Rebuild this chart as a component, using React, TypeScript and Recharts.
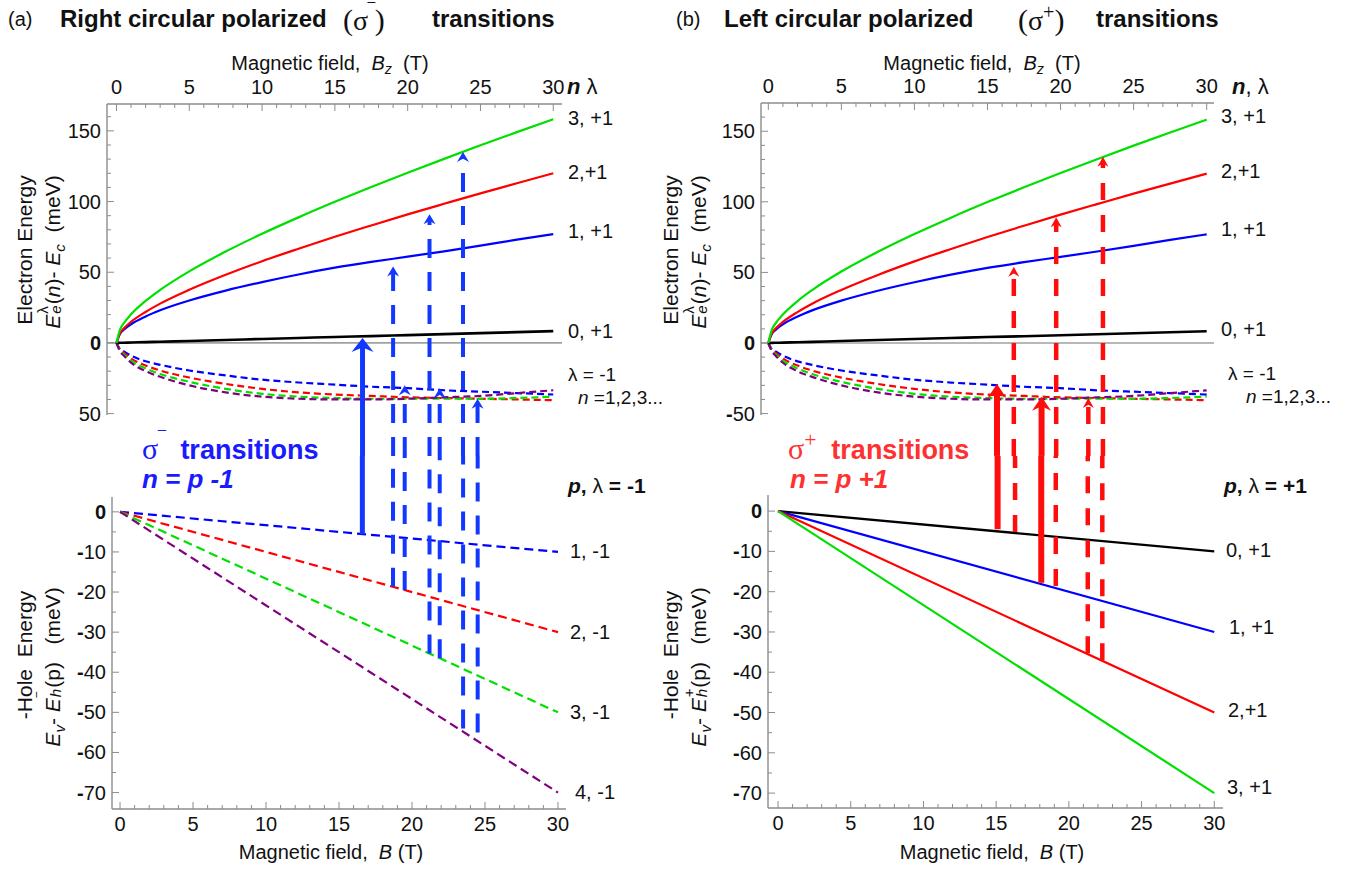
import React from 'react';
import { LineChart, Line, XAxis, YAxis, ReferenceLine } from 'recharts';

const W = 1371;
const H = 871;
const SANS = '"Liberation Sans", Arial, Helvetica, sans-serif';
const SERIF = '"Liberation Serif", "DejaVu Serif", serif';
const FRAME = '#8c8c8c';
const GREEN = '#00e000';
const RED = '#ff0000';
const BLUE = '#0000ff';
const PURPLE = '#800080';
const BLACK = '#000000';
const ARROW_BLUE = '#1238ff';
const ARROW_RED = '#ff0d0d';

// magnetic field samples (T) for the conduction band levels
const fieldE = [0, 0.25, 0.5, 1, 2, 3, 5, 7.5, 10, 12.5, 15, 17.5, 20, 22.5, 25, 27.5, 30];
// lambda = +1 electron levels, meV
const elecP0 = [0, 0.07, 0.14, 0.28, 0.55, 0.83, 1.4, 2.1, 2.8, 3.5, 4.2, 4.8, 5.5, 6.2, 6.9, 7.6, 8.3];
const elecP1 = [0, 6.5, 9.3, 13.2, 18.7, 23.1, 30, 37, 43, 48.4, 53.2, 57.3, 61, 64.8, 68.8, 73, 77];
const elecP2 = [0, 7, 10.2, 14.9, 21.9, 27.8, 37.6, 48.2, 57.8, 66.6, 75.1, 83.1, 90.9, 98.4, 105.8, 112.9, 120];
const elecP3 = [0, 9.6, 13.9, 20.2, 29.7, 37.5, 50.6, 64.6, 77.2, 88.8, 99.8, 110.3, 120.4, 130.2, 139.8, 149.1, 158.2];
// lambda = -1 electron levels, n = 1..4
const elecM1 = [0, -4.5, -6, -9, -13, -15.5, -19.5, -23, -26, -28, -29.5, -31, -32, -33.5, -34.5, -35.5, -36.5];
const elecM2 = [0, -5, -7, -11, -16, -19.5, -24.5, -29, -32.5, -35, -36.5, -37.5, -38.5, -39, -39.5, -40, -40.5];
const elecM3 = [0, -5.5, -8, -12.5, -18, -22, -27.5, -32.5, -36, -38, -39, -39.5, -39.5, -39.5, -39.5, -39, -38];
const elecM4 = [0, -6, -9, -14, -20, -24, -30, -35, -38, -39.5, -40, -40, -39.5, -38.5, -37.5, -35.5, -33.5];

// hole levels (straight lines), meV
const fieldH = [0, 30];
const holeM1 = [0, -10];
const holeM2 = [0, -30];
const holeM3 = [0, -50];
const holeM4 = [0, -70];
const holeP0 = [0, -10];
const holeP1 = [0, -30];
const holeP2 = [0, -50];
const holeP3 = [0, -70];

// sigma- transitions (field read on hole axis / electron axis, start and end energies)
const smBHole = [16.6, 18.7, 19.5, 21.2, 21.9, 23.5, 24.5];
const smBElec = [16.9, 19.0, 19.8, 21.5, 22.2, 23.8, 24.8];
const smFrom = [-5.6, -18.7, -19.5, -35.3, -36.5, -54, -55];
const smTo = [3.5, 54, -30, 91, -32, 135, -39.5];
const smSolid = [true, false, false, false, false, false, false];

// sigma+ transitions
const spBHole = [15.1, 16.3, 18.1, 19.1, 21.3, 22.3];
const spBElec = [15.65, 16.8, 18.7, 19.7, 21.9, 22.9];
const spFrom = [-4.5, -5.2, -17.8, -18.6, -35.3, -37];
const spTo = [-29, 54, -38, 89, -39, 132];
const spSolid = [true, false, true, false, false, false];

// ticks
const xMajor = [0, 5, 10, 15, 20, 25, 30];
const xAll = Array.from({ length: 31 }, (_, i) => i);
const eMajor = [-50, 0, 50, 100, 150];
const eAll = [-50, -40, -30, -20, -10, 0, 10, 20, 30, 40, 50, 60, 70, 80, 90, 100, 110, 120, 130, 140, 150, 160];
const hMajor = [-70, -60, -50, -40, -30, -20, -10, 0];
const hAll = [-70, -65, -60, -55, -50, -45, -40, -35, -30, -25, -20, -15, -10, -5, 0];

type Frame = { left: number; right: number; top: number; bottom: number };
const frameAT: Frame = { left: 107, right: 562, top: 104, bottom: 415 };
const frameAB: Frame = { left: 112, right: 566, top: 497, bottom: 809 };
const frameBT: Frame = { left: 761, right: 1214, top: 103, bottom: 415 };
const frameBB: Frame = { left: 768, right: 1223, top: 495, bottom: 808 };

const toPts = (xs: number[], ys: number[]) => xs.map((x, i) => ({ x, y: ys[i] }));

type Side = 'top' | 'bottom' | 'left' | 'right';

const minusLabel = (v: number, hideMinus = false) => {
  if (v === 0) return <tspan fontWeight="bold">0</tspan>;
  if (v < 0) {
    if (hideMinus) return <tspan>{Math.abs(v)}</tspan>;
    return (
      <>
        <tspan fontWeight="bold">-</tspan>
        <tspan>{Math.abs(v)}</tspan>
      </>
    );
  }
  return <tspan>{v}</tspan>;
};

const frameTick = (side: Side, majors: number[], fmt?: (v: number) => React.ReactNode) => (props: any) => {
  const { x, y, payload } = props;
  const v = payload.value as number;
  const major = majors.some((m) => Math.abs(m - v) < 1e-6);
  const len = major ? 7 : 4;
  let x2 = x;
  let y2 = y;
  if (side === 'top') y2 = y + len;
  if (side === 'bottom') y2 = y - len;
  if (side === 'left') x2 = x + len;
  if (side === 'right') x2 = x - len;
  let label: React.ReactNode = null;
  const common = { fontFamily: SANS, fontSize: 20, fill: '#111' };
  if (fmt && major) {
    if (side === 'top') label = <text x={x} y={y - 10} textAnchor="middle" {...common}>{fmt(v)}</text>;
    if (side === 'bottom') label = <text x={x} y={y + 22} textAnchor="middle" {...common}>{fmt(v)}</text>;
    if (side === 'left') label = <text x={x - 6} y={y + 7} textAnchor="end" {...common}>{fmt(v)}</text>;
  }
  return (
    <g>
      <line x1={x} y1={y} x2={x2} y2={y2} stroke={FRAME} strokeWidth={1} />
      {label}
    </g>
  );
};

const arrowShape = (headW: number, headL: number, withHead: boolean, color: string, width: number, dash?: string) => (p: any) => {
  const x = p.x1;
  const yTop = Math.min(p.y1, p.y2);
  const yBot = Math.max(p.y1, p.y2);
  if (!withHead) {
    return <line x1={x} x2={x} y1={yBot} y2={yTop} stroke={color} strokeWidth={width} strokeDasharray={dash} />;
  }
  return (
    <g>
      <line x1={x} x2={x} y1={yBot} y2={yTop + headL * 0.6} stroke={color} strokeWidth={width} strokeDasharray={dash} />
      <path
        d={`M${x},${yTop} L${x + headW / 2},${yTop + headL} L${x},${yTop + headL * 0.68} L${x - headW / 2},${yTop + headL} Z`}
        fill={color}
      />
    </g>
  );
};

type Series = { ys: number[]; color: string; width: number; dash?: string };

const upperSolid: Series[] = [
  { ys: elecP0, color: BLACK, width: 2.6 },
  { ys: elecP1, color: BLUE, width: 2.2 },
  { ys: elecP2, color: RED, width: 2.2 },
  { ys: elecP3, color: GREEN, width: 2.2 },
];
const upperDashed: Series[] = [
  { ys: elecM1, color: BLUE, width: 2.2, dash: '7 4' },
  { ys: elecM2, color: RED, width: 2.2, dash: '7 4' },
  { ys: elecM3, color: GREEN, width: 2.2, dash: '7 4' },
  { ys: elecM4, color: PURPLE, width: 2.2, dash: '7 4' },
];
const holeMinus: Series[] = [
  { ys: holeM1, color: BLUE, width: 2.2, dash: '9 5' },
  { ys: holeM2, color: RED, width: 2.2, dash: '9 5' },
  { ys: holeM3, color: GREEN, width: 2.2, dash: '9 5' },
  { ys: holeM4, color: PURPLE, width: 2.2, dash: '9 5' },
];
const holePlus: Series[] = [
  { ys: holeP0, color: BLACK, width: 2.4 },
  { ys: holeP1, color: BLUE, width: 2.2 },
  { ys: holeP2, color: RED, width: 2.2 },
  { ys: holeP3, color: GREEN, width: 2.2 },
];

type ArrowSet = {
  bHole: number[];
  bElec: number[];
  from: number[];
  to: number[];
  solid: boolean[];
  color: string;
  solidW: number;
  dashW: number;
  dash: string;
  bigHead: [number, number];
  smallHead: [number, number];
  join: number;
};

const ELEC_JOIN = -80;

const arrowsA: ArrowSet = {
  bHole: smBHole, bElec: smBElec, from: smFrom, to: smTo, solid: smSolid,
  color: ARROW_BLUE, solidW: 5, dashW: 4, dash: '19 14', bigHead: [22, 14], smallHead: [12, 10], join: 14,
};
const arrowsB: ArrowSet = {
  bHole: spBHole, bElec: spBElec, from: spFrom, to: spTo, solid: spSolid,
  color: ARROW_RED, solidW: 6, dashW: 4.5, dash: '17 15', bigHead: [19, 14], smallHead: [11, 10], join: 13.7,
};

const renderLines = (series: Series[], xs: number[], key: string) =>
  series.map((s, i) => (
    <Line
      key={`${key}-${i}`}
      data={toPts(xs, s.ys)}
      dataKey="y"
      xAxisId="x"
      yAxisId="y"
      type={xs.length > 2 ? 'monotone' : 'linear'}
      dot={false}
      activeDot={false}
      stroke={s.color}
      strokeWidth={s.width}
      strokeDasharray={s.dash}
      isAnimationActive={false}
    />
  ));

function ElectronPanel({ frame, xDomain, yDomain, arrows, hideMinus }: { frame: Frame; xDomain: [number, number]; yDomain: [number, number]; arrows: ArrowSet; hideMinus: boolean }) {
  const topH = 40;
  const leftW = 60;
  const margin = { top: frame.top - topH, left: frame.left - leftW, right: W - frame.right, bottom: H - frame.bottom };
  return (
    <div style={{ position: 'absolute', left: 0, top: 0 }}>
      <LineChart width={W} height={H} margin={margin}>
        <XAxis xAxisId="x" orientation="top" type="number" dataKey="x" domain={xDomain} allowDataOverflow ticks={xAll} interval={0}
          height={topH} tickSize={0} tickMargin={0} tickLine={false} axisLine={{ stroke: FRAME, strokeWidth: 1.4 }}
          tick={frameTick('top', xMajor, (v) => String(v))} />
        <XAxis xAxisId="xb" orientation="bottom" type="number" dataKey="x" domain={xDomain} allowDataOverflow ticks={xAll} interval={0}
          height={0} tickSize={0} tickMargin={0} tickLine={false} axisLine={{ stroke: FRAME, strokeWidth: 1.4 }}
          tick={frameTick('bottom', xMajor)} />
        <YAxis yAxisId="y" orientation="left" type="number" domain={yDomain} allowDataOverflow ticks={eAll} interval={0}
          width={leftW} tickSize={0} tickMargin={0} tickLine={false} axisLine={{ stroke: FRAME, strokeWidth: 1.4 }}
          tick={frameTick('left', eMajor, (v) => minusLabel(v, hideMinus && v === -50))} />
        <YAxis yAxisId="yr" orientation="right" type="number" domain={yDomain} allowDataOverflow ticks={eAll} interval={0}
          width={0} tickSize={0} tickMargin={0} tickLine={false} axisLine={{ stroke: FRAME, strokeWidth: 1.4 }}
          tick={frameTick('right', eMajor)} />
        <ReferenceLine xAxisId="x" yAxisId="y" y={0} stroke="#a0a0a0" strokeWidth={1.6} />
        {renderLines(upperDashed, fieldE, 'dn')}
        {renderLines(upperSolid, fieldE, 'up')}
        {arrows.bElec.map((b, i) => {
          const solid = arrows.solid[i];
          const head = solid ? arrows.bigHead : arrows.smallHead;
          return (
            <ReferenceLine
              key={`ae-${i}`}
              xAxisId="x"
              yAxisId="y"
              ifOverflow="visible"
              segment={[{ x: b, y: ELEC_JOIN }, { x: b, y: arrows.to[i] }]}
              stroke={arrows.color}
              shape={arrowShape(head[0], head[1], true, arrows.color, solid ? arrows.solidW : arrows.dashW, solid ? undefined : arrows.dash)}
            />
          );
        })}
      </LineChart>
    </div>
  );
}

function HolePanel({ frame, xDomain, yDomain, series, arrows }: { frame: Frame; xDomain: [number, number]; yDomain: [number, number]; series: Series[]; arrows: ArrowSet }) {
  const botH = 40;
  const leftW = 60;
  const margin = { top: frame.top, left: frame.left - leftW, right: W - frame.right, bottom: H - frame.bottom - botH };
  return (
    <div style={{ position: 'absolute', left: 0, top: 0 }}>
      <LineChart width={W} height={H} margin={margin}>
        <XAxis xAxisId="x" orientation="bottom" type="number" dataKey="x" domain={xDomain} allowDataOverflow ticks={xAll} interval={0}
          height={botH} tickSize={0} tickMargin={0} tickLine={false} axisLine={{ stroke: FRAME, strokeWidth: 1.4 }}
          tick={frameTick('bottom', xMajor, (v) => String(v))} />
        <XAxis xAxisId="xt" orientation="top" type="number" dataKey="x" domain={xDomain} allowDataOverflow ticks={xAll} interval={0}
          height={0} tickSize={0} tickMargin={0} tickLine={false} axisLine={{ stroke: FRAME, strokeWidth: 1.4 }}
          tick={frameTick('top', xMajor)} />
        <YAxis yAxisId="y" orientation="left" type="number" domain={yDomain} allowDataOverflow ticks={hAll} interval={0}
          width={leftW} tickSize={0} tickMargin={0} tickLine={false} axisLine={{ stroke: FRAME, strokeWidth: 1.4 }}
          tick={frameTick('left', hMajor, (v) => minusLabel(v))} />
        <YAxis yAxisId="yr" orientation="right" type="number" domain={yDomain} allowDataOverflow ticks={hAll} interval={0}
          width={0} tickSize={0} tickMargin={0} tickLine={false} axisLine={{ stroke: FRAME, strokeWidth: 1.4 }}
          tick={frameTick('right', hMajor)} />
        {renderLines(series, fieldH, 'h')}
        {arrows.bHole.map((b, i) => {
          const solid = arrows.solid[i];
          return (
            <ReferenceLine
              key={`ah-${i}`}
              xAxisId="x"
              yAxisId="y"
              ifOverflow="visible"
              segment={[{ x: b, y: arrows.from[i] }, { x: b, y: arrows.join }]}
              stroke={arrows.color}
              shape={arrowShape(0, 0, false, arrows.color, solid ? arrows.solidW : arrows.dashW, solid ? undefined : arrows.dash)}
            />
          );
        })}
      </LineChart>
    </div>
  );
}

type TxtProps = {
  x: number;
  y: number;
  size?: number;
  bold?: boolean;
  italic?: boolean;
  color?: string;
  anchor?: 'start' | 'middle' | 'end';
  font?: string;
  rotate?: boolean;
  lh?: number;
  children: React.ReactNode;
};

const Txt = ({ x, y, size = 20, bold, italic, color = '#111', anchor = 'start', font = SANS, rotate, lh = 1.15, children }: TxtProps) => {
  const tx = rotate ? '-50%' : anchor === 'middle' ? '-50%' : anchor === 'end' ? '-100%' : '0';
  return (
    <div
      style={{
        position: 'absolute',
        left: x,
        top: y,
        transform: `translate(${tx}, -50%)${rotate ? ' rotate(-90deg)' : ''}`,
        fontSize: size,
        fontWeight: bold ? 'bold' : 'normal',
        fontStyle: italic ? 'italic' : 'normal',
        color,
        fontFamily: font,
        whiteSpace: 'nowrap',
        lineHeight: lh,
      }}
    >
      {children}
    </div>
  );
};

// sub / superscript pair that does not change the line height
const SubSup = ({ sub, sup }: { sub: React.ReactNode; sup: React.ReactNode }) => (
  <span style={{ position: 'relative', display: 'inline-block', width: '0.5em', height: '1em' }}>
    <span style={{ position: 'absolute', left: 1, top: '-0.28em', fontSize: '0.72em', lineHeight: 1, fontStyle: 'normal' }}>{sup}</span>
    <span style={{ position: 'absolute', left: 1, top: '0.62em', fontSize: '0.72em', lineHeight: 1 }}>{sub}</span>
  </span>
);

const Low = ({ children }: { children: React.ReactNode }) => (
  <span style={{ fontSize: '0.72em', position: 'relative', top: '0.3em' }}>{children}</span>
);

const Sigma = ({ sign, size }: { sign: string; size: number }) => (
  <span style={{ fontFamily: SERIF, fontWeight: 'normal', fontStyle: 'normal', fontSize: size }}>
    σ<span style={{ fontSize: '0.72em', position: 'relative', top: '-0.55em' }}>{sign}</span>
  </span>
);

function Labels() {
  const eLabel = (
    <>
      <i>E</i><SubSup sup="λ" sub={<i>e</i>} />(<i>n</i>)- <i>E</i><Low><i>c</i></Low>&nbsp;&nbsp;(meV)
    </>
  );
  return (
    <>
      {/* titles */}
      <Txt x={8} y={19} size={20}>(a)</Txt>
      <Txt x={60} y={19} size={24} bold>Right circular polarized</Txt>
      <Txt x={343} y={20} size={30} font={SERIF}>(<Sigma sign="‾" size={28} />)</Txt>
      <Txt x={432} y={19} size={24} bold>transitions</Txt>
      <Txt x={676} y={19} size={20}>(b)</Txt>
      <Txt x={724} y={19} size={24} bold>Left circular polarized</Txt>
      <Txt x={1018} y={20} size={30} font={SERIF}>(<Sigma sign="+" size={28} />)</Txt>
      <Txt x={1096} y={19} size={24} bold>transitions</Txt>

      {/* top axis titles */}
      <Txt x={330} y={63} size={20} anchor="middle">Magnetic field,&nbsp;&nbsp;<i>B<Low>z</Low></i>&nbsp;&nbsp;(T)</Txt>
      <Txt x={982} y={63} size={20} anchor="middle">Magnetic field,&nbsp;&nbsp;<i>B<Low>z</Low></i>&nbsp;&nbsp;(T)</Txt>
      {/* bottom axis titles */}
      <Txt x={331} y={852} size={20} anchor="middle">Magnetic field,&nbsp;&nbsp;<i>B</i> (T)</Txt>
      <Txt x={992} y={852} size={20} anchor="middle">Magnetic field,&nbsp;&nbsp;<i>B</i> (T)</Txt>

      {/* vertical axis titles */}
      <Txt x={25} y={250} size={21} rotate>Electron Energy</Txt>
      <Txt x={52} y={252} size={21} rotate>{eLabel}</Txt>
      <Txt x={671} y={250} size={21} rotate>Electron Energy</Txt>
      <Txt x={698} y={252} size={21} rotate>{eLabel}</Txt>
      <Txt x={25} y={655} size={21} rotate>-Hole&nbsp;&nbsp;Energy</Txt>
      <Txt x={52} y={667} size={21} rotate><i>E</i><Low><i>v</i></Low>- <i>E</i><SubSup sup="‾" sub={<i>h</i>} />(p)&nbsp;&nbsp;&nbsp;(meV)</Txt>
      <Txt x={671} y={655} size={21} rotate>-Hole&nbsp;&nbsp;Energy</Txt>
      <Txt x={698} y={667} size={21} rotate><i>E</i><Low><i>v</i></Low>- <i>E</i><SubSup sup="+" sub={<i>h</i>} />(p)&nbsp;&nbsp;&nbsp;(meV)</Txt>

      {/* level labels, panel (a) */}
      <Txt x={567} y={87} size={22}><b><i>n</i></b> λ</Txt>
      <Txt x={568} y={118} size={20}>3, +1</Txt>
      <Txt x={568} y={172} size={20}>2,+1</Txt>
      <Txt x={568} y={231} size={20}>1, +1</Txt>
      <Txt x={568} y={331} size={20}>0, +1</Txt>
      <Txt x={568} y={375} size={19}>λ = -1</Txt>
      <Txt x={578} y={398} size={19}><i>n</i> =1,2,3...</Txt>
      <Txt x={568} y={486} size={21} bold><i>p</i>, <span style={{ fontWeight: 'normal' }}>λ</span> = -1</Txt>
      <Txt x={570} y={551} size={20}>1, -1</Txt>
      <Txt x={570} y={632} size={20}>2, -1</Txt>
      <Txt x={570} y={712} size={20}>3, -1</Txt>
      <Txt x={575} y={792} size={20}>4, -1</Txt>

      {/* level labels, panel (b) */}
      <Txt x={1232} y={87} size={22}><b><i>n</i></b>, λ</Txt>
      <Txt x={1221} y={116} size={20}>3, +1</Txt>
      <Txt x={1221} y={171} size={20}>2,+1</Txt>
      <Txt x={1221} y={229} size={20}>1, +1</Txt>
      <Txt x={1221} y={329} size={20}>0, +1</Txt>
      <Txt x={1228} y={374} size={19}>λ = -1</Txt>
      <Txt x={1246} y={397} size={19}><i>n</i> =1,2,3...</Txt>
      <Txt x={1224} y={486} size={21} bold><i>p</i>, <span style={{ fontWeight: 'normal' }}>λ</span> = +1</Txt>
      <Txt x={1226} y={550} size={20}>0, +1</Txt>
      <Txt x={1229} y={627} size={20}>1, +1</Txt>
      <Txt x={1228} y={710} size={20}>2,+1</Txt>
      <Txt x={1227} y={787} size={20}>3, +1</Txt>

      {/* transition annotations */}
      <Txt x={142} y={449} size={27} bold lh={1} color="#1a1aff"><Sigma sign="‾" size={30} />&nbsp; transitions</Txt>
      <Txt x={142} y={479} size={26} bold italic lh={1} color="#1a1aff">n = p -1</Txt>
      <Txt x={788} y={449} size={27} bold lh={1} color="#ff3030"><Sigma sign="+" size={30} />&nbsp; transitions</Txt>
      <Txt x={790} y={479} size={26} bold italic lh={1} color="#ff3030">n = p +1</Txt>
    </>
  );
}

export default function App() {
  return (
    <div style={{ position: 'absolute', left: 0, top: 0, width: W, height: H, background: '#fff', overflow: 'hidden' }}>
      <HolePanel frame={frameAB} xDomain={[-0.55, 30.55]} yDomain={[-74.1, 3.7]} series={holeMinus} arrows={arrowsA} />
      <ElectronPanel frame={frameAT} xDomain={[-0.65, 30.6]} yDomain={[-51, 169]} arrows={arrowsA} hideMinus />
      <HolePanel frame={frameBB} xDomain={[-0.69, 30.6]} yDomain={[-73.7, 4]} series={holePlus} arrows={arrowsB} />
      <ElectronPanel frame={frameBT} xDomain={[-0.5, 30.5]} yDomain={[-51, 170]} arrows={arrowsB} hideMinus={false} />
      <Labels />
    </div>
  );
}
